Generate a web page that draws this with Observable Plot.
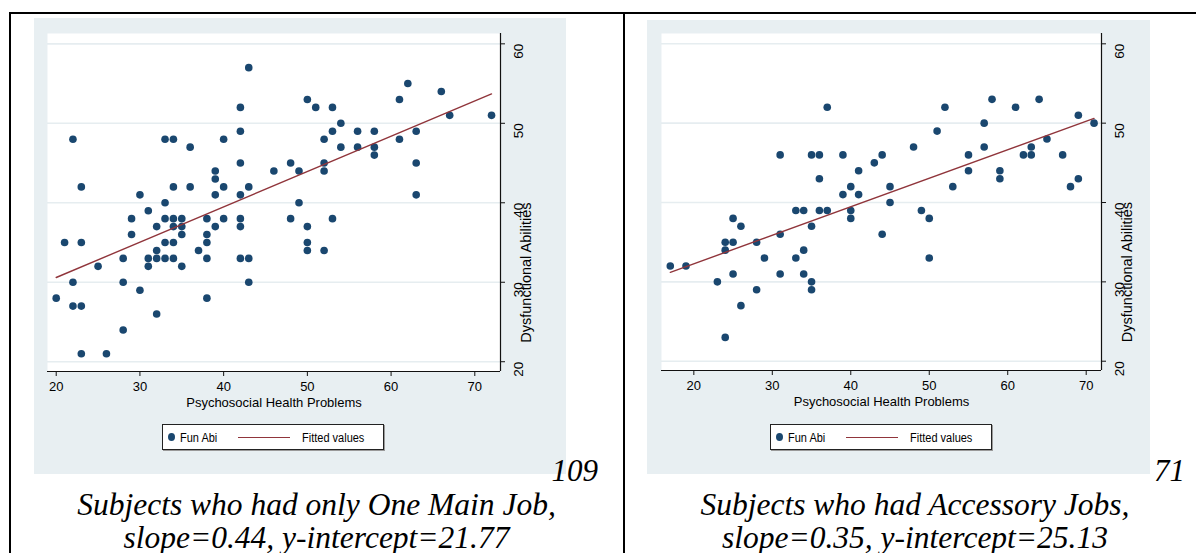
<!DOCTYPE html>
<html>
<head>
<meta charset="utf-8">
<script src="https://cdn.jsdelivr.net/npm/d3@7"></script>
<script src="https://cdn.jsdelivr.net/npm/@observablehq/plot@0.6"></script>
<style>
  body { margin: 0; background: #fff; }
  #root { position: relative; width: 1196px; height: 553px; overflow: hidden; background: #fff; }
  .hline, .vline { position: absolute; background: #000; }
  .panel { position: absolute; }
  .legend { position: absolute; box-sizing: border-box; background: #fff; border: 1px solid #222;
            box-shadow: 1px 1px 0 #9a9a9a; font-family: "Liberation Sans", Arial, sans-serif; font-size: 11px; color: #000; }
  .legend .dot { position: absolute; width: 7px; height: 8px; border-radius: 50%; background: #1a476f; }
  .legend .ln { position: absolute; height: 1.4px; background: #90353b; }
  .legend .lbl { position: absolute; white-space: nowrap; line-height: 12px; transform: scaleY(1.15); transform-origin: 0 50%; }
  .cap { position: absolute; text-align: center; font-family: "Liberation Serif", "Times New Roman", serif;
         font-style: italic; font-size: 31.5px; line-height: 33px; color: #000; white-space: nowrap; }
  .num { position: absolute; font-family: "Liberation Serif", "Times New Roman", serif; font-style: italic;
         font-size: 31px; line-height: 1; color: #000; text-align: right; white-space: nowrap; }
</style>
</head>
<body>
<div id="root">
  <div class="hline" style="left:9px; top:12px; width:1187px; height:2px;"></div>
  <div class="vline" style="left:9px; top:12px; width:2px; height:541px;"></div>
  <div class="vline" style="left:623px; top:12px; width:2px; height:541px;"></div>
  <div id="panelL" class="panel" style="left:34px; top:18px;"></div>
  <div id="panelR" class="panel" style="left:647px; top:20px;"></div>
</div>
<script>
// ---- data ----
const xTitle = "Psychosocial Health Problems";
const yTitle = "Dysfunctional Abilities";
const xTicks = [20, 30, 40, 50, 60, 70];
const yTicks = [20, 30, 40, 50, 60];
const legendLabels = ["Fun Abi", "Fitted values"];

// Left panel: subjects who had only one main job (n = 109)
const leftX = [20, 21, 22,22,22, 23,23,23,23, 25, 26, 28,28,28, 29,29, 30,30, 31,31,31, 32,32,32,32,
  33,33,33,33,33, 34,34,34,34,34,34, 35,35,35,35, 36,36, 37, 38,38,38,38,38, 39,39,39,39, 40,40,40,
  42,42,42,42,42,42,42, 43,43,43,43, 46, 48,48, 49,49, 50,50,50,50, 51, 52,52,52,52, 53,53,53, 54,54,
  56,56, 58,58,58, 61,61, 62, 63,63,63, 66, 67, 72];
const leftY = [28, 35, 48,30,27, 42,35,27,21, 32, 21, 33,30,24, 38,36, 41,29, 39,33,32, 37,34,33,26,
  48,40,38,35,33, 48,42,38,37,35,33, 38,37,36,32, 47,42, 34, 38,36,35,33,28, 44,43,41,37, 48,42,38,
  52,49,45,41,38,37,33, 57,42,33,30, 44, 45,38, 44,40, 53,37,35,34, 52, 48,45,44,34, 52,49,38, 50,47,
  49,47, 49,47,46, 53,48, 55, 49,45,41, 54, 51, 51];
const leftFitX = [20, 72];
const leftFitY = [30.6, 53.7];
const leftN = "109";
const leftCaption = ["Subjects who had only One Main Job,", "slope=0.44, y-intercept=21.77"];

// Right panel: subjects who had accessory jobs (n = 71)
const rightX = [17, 19, 23, 24,24,24, 25,25,25, 26,26, 28,28, 29, 31,31,31, 33,33, 34,34,34, 35,35,35,35,
  36,36,36, 37,37, 39,39, 40,40,40, 41,41, 43, 44,44, 45,45, 48, 49, 50,50, 51, 52, 53, 55,55, 57,57, 58,
  59,59, 61, 62, 63,63, 64, 65, 67, 68, 69,69, 71];
const rightY = [32, 32, 30, 35,34,23, 38,35,31, 37,27, 35,29, 33, 46,36,31, 39,33, 39,34,31, 46,37,30,29,
  46,43,39, 52,39, 46,41, 42,39,38, 44,41, 45, 46,36, 42,40, 47, 39, 38,33, 49, 52, 42, 46,44, 50,47, 53,
  44,43, 52, 46, 47,46, 53, 48, 46, 42, 51,43, 50];
const rightFitX = [17, 71];
const rightFitY = [31.2, 50.6];
const rightN = "71";
const rightCaption = ["Subjects who had Accessory Jobs,", "slope=0.35, y-intercept=25.13"];

// ---- style ----
const GRAY = "#e8eff2";
const GRID = "#e6edf0";
const NAVY = "#1a476f";
const MAROON = "#90353b";

function panel(cfg) {
  const pts = cfg.xs.map((x, i) => ({x, y: cfg.ys[i]}));
  const fit = cfg.fx.map((x, i) => ({x, y: cfg.fy[i]}));
  const svg = Plot.plot({
    width: cfg.w, height: cfg.h,
    marginLeft: cfg.ml, marginRight: cfg.mr, marginTop: cfg.mt, marginBottom: cfg.mb,
    style: {background: GRAY, fontFamily: "'Liberation Sans', Arial, sans-serif", fontSize: "13px", color: "#000", overflow: "visible"},
    x: {domain: cfg.xd},
    y: {domain: cfg.yd},
    marks: [
      Plot.frame({fill: "white", stroke: "none"}),
      Plot.gridY(yTicks, {stroke: GRID, strokeOpacity: 1, strokeWidth: 1.6}),
      Plot.ruleX([cfg.xd[1]], {stroke: "#111", strokeWidth: 1.2}),
      Plot.ruleY([cfg.yd[0]], {stroke: "#111", strokeWidth: 1.2}),
      Plot.axisX(xTicks, {anchor: "bottom", tickSize: 5, tickPadding: 5, label: null, stroke: "#111", fontSize: 13}),
      Plot.axisY(yTicks, {anchor: "right", tickSize: 4, tickFormat: () => "", label: null, stroke: "#111"}),
      Plot.text(yTicks, {y: d => d, text: d => String(d), frameAnchor: "right", dx: 18, rotate: -90, fontSize: 13.5}),
      Plot.text([yTitle], {text: d => d, frameAnchor: "right", dx: 26, rotate: -90, fontSize: 14.5}),
      Plot.text([xTitle], {text: d => d, frameAnchor: "bottom", dy: 35, fontSize: 13}),
      Plot.dot(pts, {x: "x", y: "y", r: 3.8, fill: NAVY}),
      Plot.line(fit, {x: "x", y: "y", stroke: MAROON, strokeWidth: 1.4})
    ]
  });
  return svg;
}

document.getElementById("panelL").appendChild(panel({
  xs: leftX, ys: leftY, fx: leftFitX, fy: leftFitY,
  w: 532, h: 456, ml: 13, mr: 66, mt: 15, mb: 103,
  xd: [18.96, 73.07], yd: [18.77, 61.3]
}));
document.getElementById("panelR").appendChild(panel({
  xs: rightX, ys: rightY, fx: rightFitX, fy: rightFitY,
  w: 503, h: 454, ml: 14, mr: 49, mt: 13, mb: 104,
  xd: [15.88, 71.95], yd: [18.83, 61.3]
}));

const root = document.getElementById("root");
function legend(left) {
  const d = document.createElement("div");
  d.className = "legend";
  d.style.left = left + "px"; d.style.top = "424px"; d.style.width = "222px"; d.style.height = "26px";
  d.innerHTML =
    `<div class="dot" style="left:5px; top:8px;"></div>` +
    `<div class="lbl" style="left:17px; top:6px;">${legendLabels[0]}</div>` +
    `<div class="ln" style="left:75px; top:12px; width:52px;"></div>` +
    `<div class="lbl" style="left:139px; top:6px;">${legendLabels[1]}</div>`;
  root.appendChild(d);
}
legend(162);
legend(770);

function text(cls, html, style) {
  const d = document.createElement("div");
  d.className = cls; d.innerHTML = html;
  Object.assign(d.style, style);
  root.appendChild(d);
}
text("num", leftN, {left: "500px", width: "98px", top: "455px"});
text("num", rightN, {left: "1087px", width: "98px", top: "455px"});
text("cap", leftCaption.join("<br>"), {left: "10px", width: "613px", top: "488px"});
text("cap", rightCaption.join("<br>"), {left: "624px", width: "582px", top: "488px"});
</script>
</body>
</html>
